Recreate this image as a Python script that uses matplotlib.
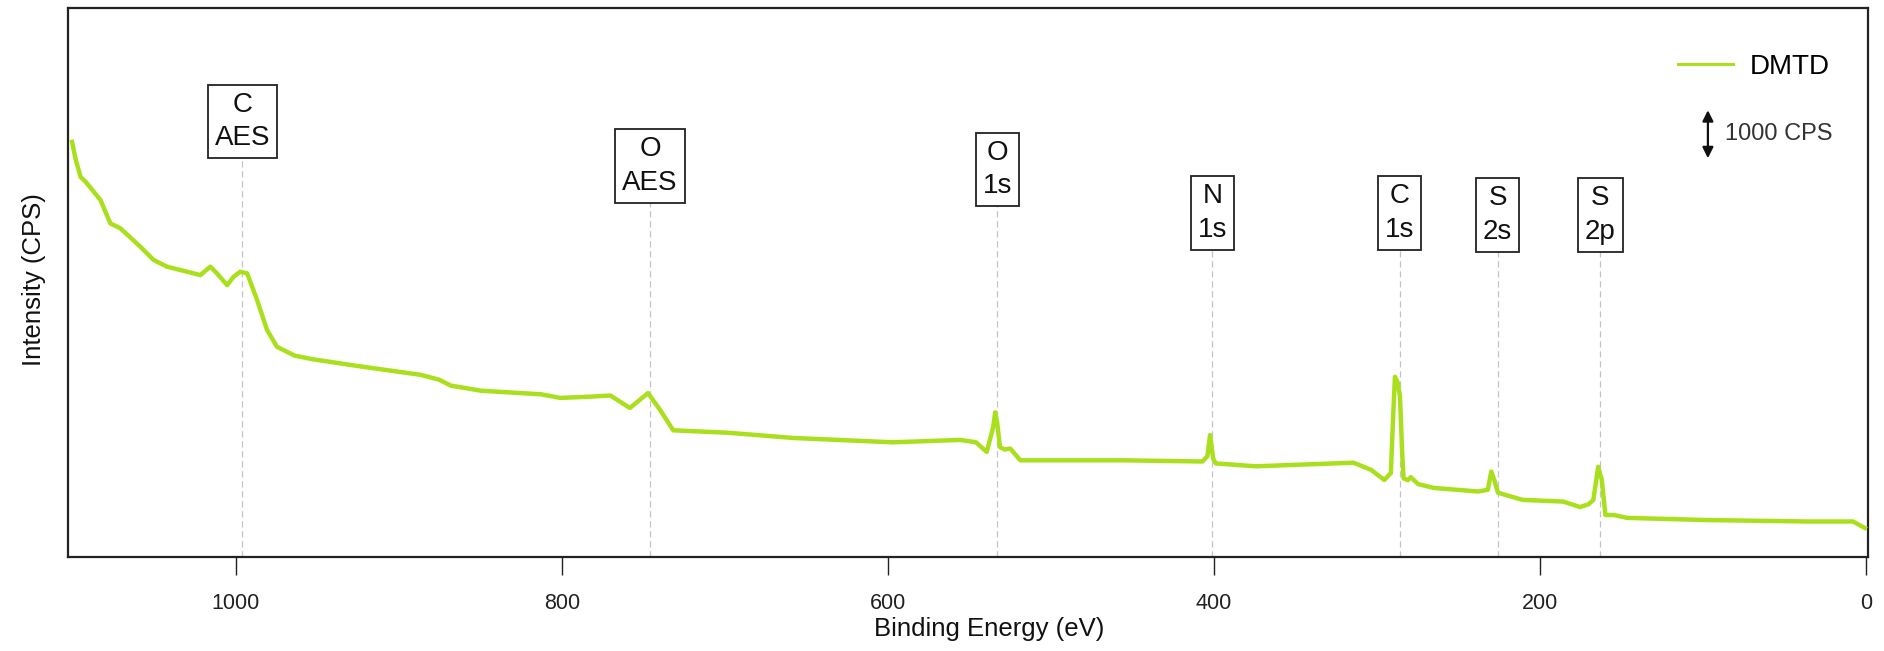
import matplotlib
matplotlib.use("Agg")
import matplotlib.pyplot as plt

# ---- data ----
energy_ev = [1100.5, 1098.5, 1095.3, 1092.2, 1083.1, 1077.0, 1070.9, 1058.6, 1050.5, 1042.3,
             1030.0, 1021.8, 1015.7, 1011.6, 1005.4, 1001.4, 997.3, 993.1, 987.0, 980.9,
             974.8, 963.9, 952.8, 923.3, 886.5, 875.4, 868.0, 849.6, 812.8, 801.0,
             783.3, 770.3, 758.3, 747.2, 739.8, 731.7, 698.6, 658.0, 596.9, 555.6,
             546.0, 539.4, 535.5, 534.2, 533.0, 531.3, 528.4, 525.0, 518.8, 456.1,
             407.1, 404.0, 402.4, 400.5, 398.9, 374.3, 314.4, 303.6, 295.5, 291.5,
             290.0, 289.0, 287.4, 285.9, 284.6, 283.7, 281.0, 279.3, 274.8, 265.3,
             238.0, 232.0, 229.9, 228.0, 225.8, 210.7, 185.7, 175.4, 170.2, 167.3,
             164.3, 162.1, 159.9, 154.7, 146.6, 97.6, 36.0, 8.0, 0.7]
intensity_cps = [8650, 8310, 7920, 7820, 7440, 6950, 6850, 6465, 6190, 6050,
                 5945, 5875, 6050, 5910, 5665, 5840, 5945, 5910, 5355, 4730,
                 4380, 4195, 4120, 3970, 3795, 3695, 3570, 3465, 3390, 3315,
                 3340, 3365, 3105, 3415, 3065, 2640, 2590, 2480, 2390, 2440,
                 2390, 2190, 2700, 3015, 2800, 2290, 2240, 2260, 2015, 2015,
                 1990, 2100, 2540, 2050, 1950, 1890, 1965, 1815, 1605, 1750,
                 3000, 3755, 3645, 3345, 2200, 1640, 1600, 1665, 1520, 1440,
                 1365, 1400, 1780, 1600, 1340, 1190, 1155, 1040, 1100, 1190,
                 1880, 1605, 875, 875, 815, 770, 740, 740, 605]

peak_labels = ["C\nAES", "O\nAES", "O\n1s", "N\n1s", "C\n1s", "S\n2s", "S\n2p"]
peak_ev = [996, 746, 533, 401, 286, 226, 163]
label_cps = [9075, 8145, 8075, 7165, 7165, 7125, 7125]

xticks = [0, 200, 400, 600, 800, 1000]
series_name = "DMTD"
scale_ev = 97
scale_cps = [8310, 9310]
scale_text = "1000 CPS"

line_color = "#aadf1e"
font = ["Liberation Sans", "DejaVu Sans"]

fig = plt.figure(figsize=(18.84, 6.51), dpi=100)
ax = fig.add_axes([0.0361, 0.1444, 0.9554, 0.8433])

ax.plot(energy_ev, intensity_cps, color=line_color, lw=3.2, label=series_name, zorder=3,
        solid_joinstyle="round")

for lab, ev, yc in zip(peak_labels, peak_ev, label_cps):
    ax.vlines(ev, 0, yc, colors="#c4c4c4", linestyles=(0, (5, 3)), lw=0.9, zorder=1)
    ax.text(ev, yc, lab, ha="center", va="center", fontsize=20, family=font,
            color="#111111", linespacing=1.38, zorder=4,
            bbox=dict(boxstyle="square,pad=0.25", fc="white", ec="#222222", lw=1.3))

# scale bar
ax.annotate("", xy=(scale_ev, scale_cps[1]), xytext=(scale_ev, scale_cps[0]),
            arrowprops=dict(arrowstyle="<|-|>", color="#111111", lw=1.6,
                            mutation_scale=16, shrinkA=0, shrinkB=0))
ax.text(scale_ev - 10.5, sum(scale_cps) / 2, scale_text, ha="left", va="center",
        fontsize=17, family=font, color="#333333")

ax.set_xlim(1103, -1.2)
ax.set_ylim(0, 11440)
ax.set_xticks(xticks)
ax.set_xticklabels([str(t) for t in xticks], family=font, fontsize=15.5, color="#222222")
ax.set_yticks([])
ax.tick_params(axis="x", direction="out", length=13, width=1.0, pad=13, color="#222222")

for s in ax.spines.values():
    s.set_linewidth(1.6)
    s.set_color("#222222")

ax.set_xlabel("Binding Energy (eV)", family=font, fontsize=18.5, color="#111111")
ax.xaxis.set_label_coords(0.5117, -0.109)
ax.set_ylabel("Intensity (CPS)", family=font, fontsize=18.5, color="#111111")
ax.yaxis.set_label_coords(-0.0125, 0.506)

leg = ax.legend(loc="center left", bbox_to_anchor=(0.8944, 0.8925), frameon=False,
                handlelength=1.98, handletextpad=0.6, borderpad=0, borderaxespad=0,
                prop={"family": font, "size": 20})
for h in leg.get_lines():
    h.set_linewidth(2.2)

fig.savefig("out.png", dpi=100, facecolor="white")
